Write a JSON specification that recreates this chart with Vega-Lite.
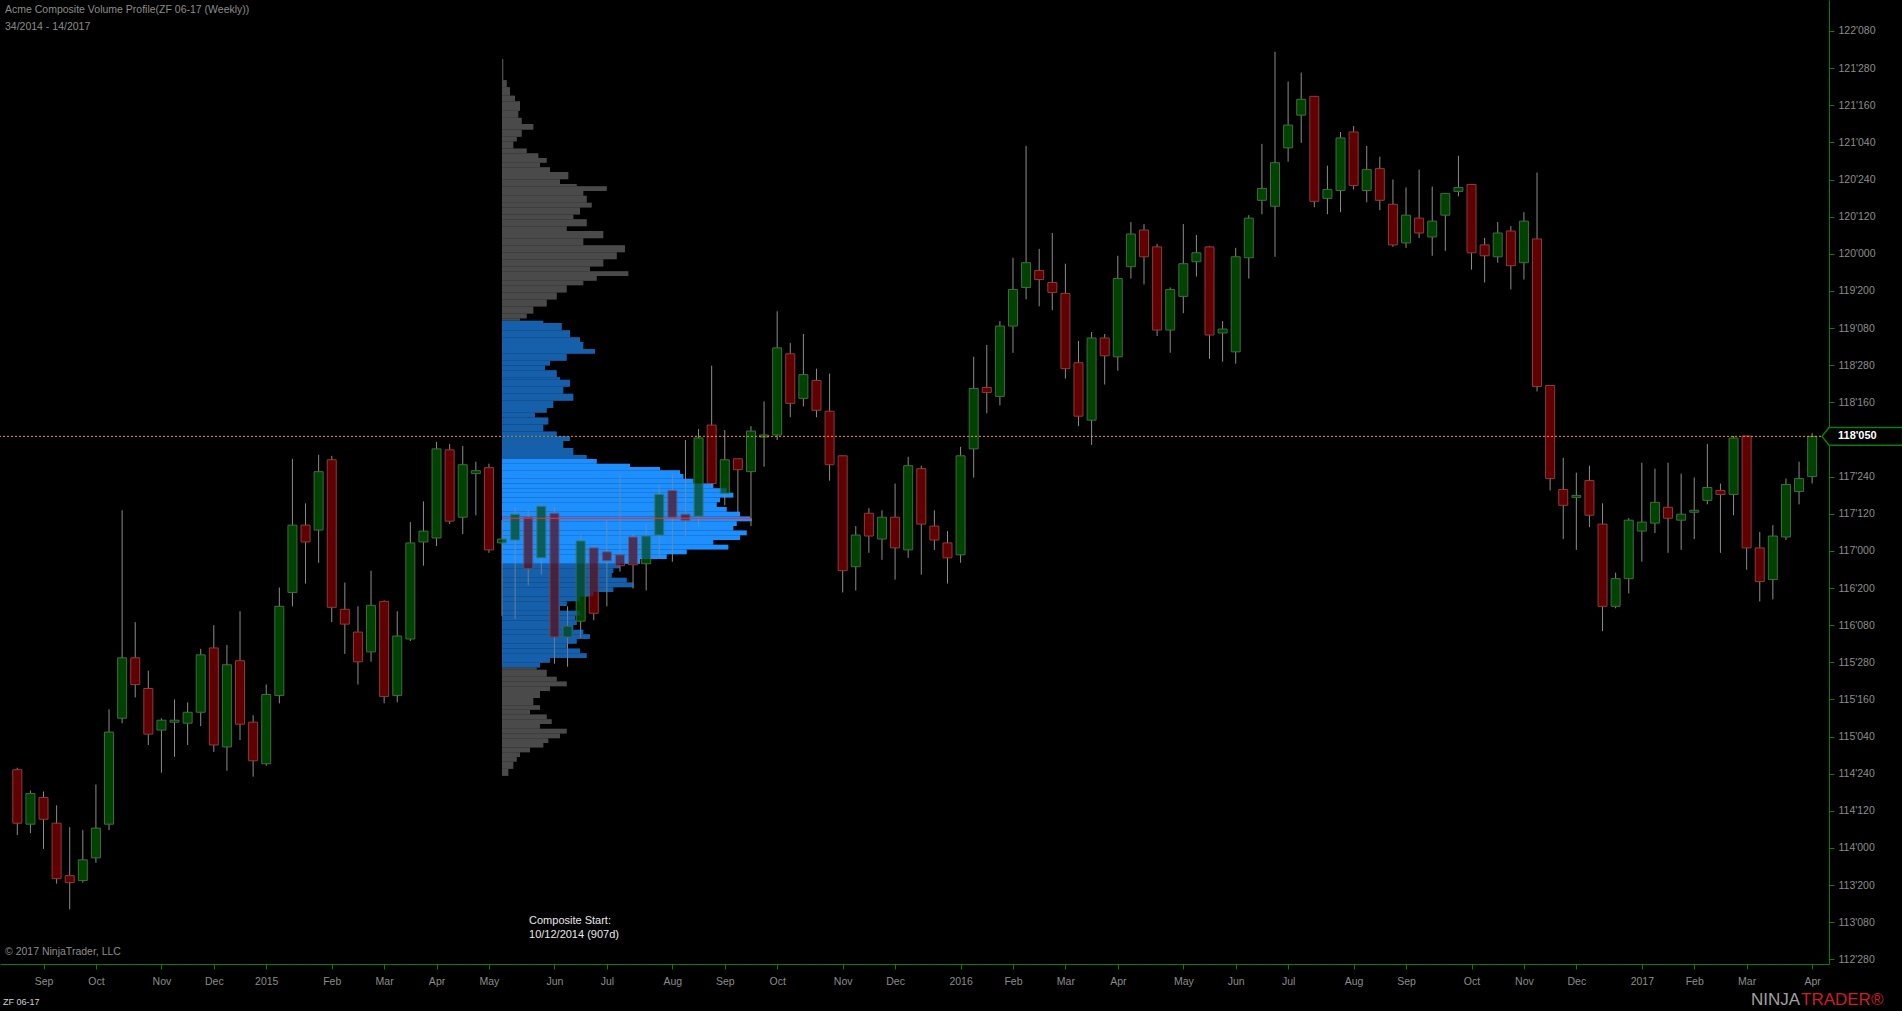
{
  "$schema": "https://vega.github.io/schema/vega-lite/v6.json",
  "width": 1829,
  "height": 964,
  "autosize": {"type": "none"},
  "padding": {"left": 0, "top": 0, "right": 73, "bottom": 47},
  "background": "#000000",
  "datasets": {
    "candles": [
      {"d":"2014-08-22","o":114.79,"h":114.81,"l":114.13,"c":114.25},
      {"d":"2014-08-29","o":114.24,"h":114.58,"l":114.15,"c":114.55},
      {"d":"2014-09-05","o":114.51,"h":114.57,"l":113.99,"c":114.29},
      {"d":"2014-09-12","o":114.25,"h":114.43,"l":113.64,"c":113.69},
      {"d":"2014-09-19","o":113.72,"h":114.21,"l":113.38,"c":113.65},
      {"d":"2014-09-26","o":113.67,"h":114.18,"l":113.65,"c":113.88},
      {"d":"2014-10-03","o":113.90,"h":114.64,"l":113.85,"c":114.20},
      {"d":"2014-10-10","o":114.24,"h":115.40,"l":114.18,"c":115.17},
      {"d":"2014-10-17","o":115.31,"h":117.41,"l":115.26,"c":115.92},
      {"d":"2014-10-24","o":115.92,"h":116.28,"l":115.52,"c":115.65},
      {"d":"2014-10-31","o":115.61,"h":115.79,"l":115.04,"c":115.15},
      {"d":"2014-11-07","o":115.19,"h":115.31,"l":114.76,"c":115.29},
      {"d":"2014-11-14","o":115.27,"h":115.50,"l":114.92,"c":115.29},
      {"d":"2014-11-21","o":115.26,"h":115.47,"l":115.04,"c":115.37},
      {"d":"2014-11-28","o":115.37,"h":116.01,"l":115.23,"c":115.95},
      {"d":"2014-12-05","o":116.02,"h":116.25,"l":114.97,"c":115.04},
      {"d":"2014-12-12","o":115.02,"h":116.05,"l":114.78,"c":115.85},
      {"d":"2014-12-19","o":115.89,"h":116.39,"l":115.09,"c":115.25},
      {"d":"2014-12-26","o":115.27,"h":115.34,"l":114.72,"c":114.88},
      {"d":"2015-01-02","o":114.85,"h":115.65,"l":114.83,"c":115.55},
      {"d":"2015-01-09","o":115.54,"h":116.63,"l":115.46,"c":116.44},
      {"d":"2015-01-16","o":116.58,"h":117.93,"l":116.44,"c":117.26},
      {"d":"2015-01-23","o":117.26,"h":117.48,"l":116.67,"c":117.09},
      {"d":"2015-01-30","o":117.21,"h":117.97,"l":116.88,"c":117.80},
      {"d":"2015-02-06","o":117.92,"h":117.96,"l":116.28,"c":116.43},
      {"d":"2015-02-13","o":116.41,"h":116.68,"l":115.96,"c":116.26},
      {"d":"2015-02-20","o":116.18,"h":116.44,"l":115.65,"c":115.88},
      {"d":"2015-02-27","o":115.98,"h":116.80,"l":115.88,"c":116.45},
      {"d":"2015-03-06","o":116.49,"h":116.50,"l":115.46,"c":115.53},
      {"d":"2015-03-13","o":115.54,"h":116.39,"l":115.47,"c":116.14},
      {"d":"2015-03-20","o":116.11,"h":117.29,"l":116.09,"c":117.08},
      {"d":"2015-03-27","o":117.09,"h":117.50,"l":116.85,"c":117.20},
      {"d":"2015-04-03","o":117.13,"h":118.10,"l":117.05,"c":118.03},
      {"d":"2015-04-10","o":118.02,"h":118.08,"l":117.27,"c":117.30},
      {"d":"2015-04-17","o":117.34,"h":118.06,"l":117.17,"c":117.87},
      {"d":"2015-04-24","o":117.78,"h":117.90,"l":117.36,"c":117.81},
      {"d":"2015-05-01","o":117.84,"h":117.88,"l":116.98,"c":117.01},
      {"d":"2015-05-08","o":117.08,"h":117.31,"l":116.34,"c":117.12},
      {"d":"2015-05-15","o":117.11,"h":117.44,"l":116.31,"c":117.37},
      {"d":"2015-05-22","o":117.34,"h":117.41,"l":116.65,"c":116.82},
      {"d":"2015-05-29","o":116.93,"h":117.47,"l":116.76,"c":117.45},
      {"d":"2015-06-05","o":117.38,"h":117.44,"l":115.86,"c":116.13},
      {"d":"2015-06-12","o":116.13,"h":116.44,"l":115.83,"c":116.24},
      {"d":"2015-06-19","o":116.29,"h":117.16,"l":116.12,"c":117.10},
      {"d":"2015-06-26","o":117.03,"h":117.05,"l":116.30,"c":116.37},
      {"d":"2015-07-03","o":116.99,"h":117.31,"l":116.44,"c":116.90},
      {"d":"2015-07-10","o":116.96,"h":117.78,"l":116.79,"c":116.85},
      {"d":"2015-07-17","o":117.14,"h":117.17,"l":116.62,"c":116.86},
      {"d":"2015-07-24","o":116.87,"h":117.27,"l":116.60,"c":117.15},
      {"d":"2015-07-31","o":117.16,"h":117.67,"l":116.93,"c":117.57},
      {"d":"2015-08-07","o":117.61,"h":117.78,"l":116.89,"c":117.34},
      {"d":"2015-08-14","o":117.37,"h":118.12,"l":117.14,"c":117.31},
      {"d":"2015-08-21","o":117.35,"h":118.23,"l":117.25,"c":118.14},
      {"d":"2015-08-28","o":118.27,"h":118.87,"l":117.64,"c":117.68},
      {"d":"2015-09-04","o":117.58,"h":118.22,"l":117.46,"c":117.92},
      {"d":"2015-09-11","o":117.93,"h":117.93,"l":117.38,"c":117.82},
      {"d":"2015-09-18","o":117.80,"h":118.26,"l":117.25,"c":118.21},
      {"d":"2015-09-25","o":118.15,"h":118.51,"l":117.85,"c":118.17},
      {"d":"2015-10-02","o":118.17,"h":119.42,"l":118.12,"c":119.05},
      {"d":"2015-10-09","o":118.99,"h":119.10,"l":118.35,"c":118.49},
      {"d":"2015-10-16","o":118.54,"h":119.19,"l":118.46,"c":118.78},
      {"d":"2015-10-23","o":118.72,"h":118.84,"l":118.35,"c":118.42},
      {"d":"2015-10-30","o":118.41,"h":118.79,"l":117.71,"c":117.87},
      {"d":"2015-11-06","o":117.96,"h":117.96,"l":116.58,"c":116.80},
      {"d":"2015-11-13","o":116.84,"h":117.25,"l":116.60,"c":117.16},
      {"d":"2015-11-20","o":117.38,"h":117.43,"l":116.98,"c":117.15},
      {"d":"2015-11-27","o":117.12,"h":117.41,"l":116.91,"c":117.34},
      {"d":"2015-12-04","o":117.34,"h":117.68,"l":116.71,"c":117.03},
      {"d":"2015-12-11","o":117.01,"h":117.95,"l":116.93,"c":117.86},
      {"d":"2015-12-18","o":117.83,"h":117.86,"l":116.76,"c":117.27},
      {"d":"2015-12-25","o":117.25,"h":117.41,"l":117.01,"c":117.11},
      {"d":"2016-01-01","o":117.08,"h":117.20,"l":116.67,"c":116.93},
      {"d":"2016-01-08","o":116.96,"h":118.05,"l":116.88,"c":117.96},
      {"d":"2016-01-15","o":118.03,"h":118.96,"l":117.74,"c":118.64},
      {"d":"2016-01-22","o":118.65,"h":119.08,"l":118.39,"c":118.60},
      {"d":"2016-01-29","o":118.56,"h":119.32,"l":118.47,"c":119.27},
      {"d":"2016-02-05","o":119.27,"h":119.96,"l":119.00,"c":119.64},
      {"d":"2016-02-12","o":119.66,"h":121.09,"l":119.54,"c":119.91},
      {"d":"2016-02-19","o":119.83,"h":120.05,"l":119.47,"c":119.74},
      {"d":"2016-02-26","o":119.71,"h":120.21,"l":119.43,"c":119.61},
      {"d":"2016-03-04","o":119.60,"h":119.90,"l":118.74,"c":118.84},
      {"d":"2016-03-11","o":118.90,"h":119.12,"l":118.26,"c":118.36},
      {"d":"2016-03-18","o":118.32,"h":119.21,"l":118.07,"c":119.15},
      {"d":"2016-03-25","o":119.15,"h":119.19,"l":118.68,"c":118.97},
      {"d":"2016-04-01","o":118.96,"h":119.98,"l":118.82,"c":119.75},
      {"d":"2016-04-08","o":119.87,"h":120.32,"l":119.75,"c":120.20},
      {"d":"2016-04-15","o":120.24,"h":120.30,"l":119.69,"c":119.97},
      {"d":"2016-04-22","o":120.07,"h":120.10,"l":119.17,"c":119.23},
      {"d":"2016-04-29","o":119.23,"h":119.66,"l":119.00,"c":119.64},
      {"d":"2016-05-06","o":119.57,"h":120.30,"l":119.40,"c":119.90},
      {"d":"2016-05-13","o":119.92,"h":120.19,"l":119.77,"c":120.01},
      {"d":"2016-05-20","o":120.07,"h":120.08,"l":118.94,"c":119.18},
      {"d":"2016-05-27","o":119.20,"h":119.32,"l":118.91,"c":119.24},
      {"d":"2016-06-03","o":119.01,"h":120.06,"l":118.89,"c":119.97},
      {"d":"2016-06-10","o":119.96,"h":120.39,"l":119.75,"c":120.36},
      {"d":"2016-06-17","o":120.54,"h":121.11,"l":120.40,"c":120.66},
      {"d":"2016-06-24","o":120.48,"h":122.04,"l":119.97,"c":120.92},
      {"d":"2016-07-01","o":121.07,"h":121.74,"l":120.93,"c":121.30},
      {"d":"2016-07-08","o":121.40,"h":121.83,"l":121.12,"c":121.56},
      {"d":"2016-07-15","o":121.59,"h":121.59,"l":120.47,"c":120.53},
      {"d":"2016-07-22","o":120.56,"h":120.89,"l":120.40,"c":120.65},
      {"d":"2016-07-29","o":120.64,"h":121.23,"l":120.42,"c":121.17},
      {"d":"2016-08-05","o":121.23,"h":121.29,"l":120.65,"c":120.69},
      {"d":"2016-08-12","o":120.64,"h":121.09,"l":120.52,"c":120.85},
      {"d":"2016-08-19","o":120.86,"h":120.98,"l":120.44,"c":120.54},
      {"d":"2016-08-26","o":120.50,"h":120.75,"l":120.07,"c":120.09},
      {"d":"2016-09-02","o":120.11,"h":120.67,"l":120.06,"c":120.39},
      {"d":"2016-09-09","o":120.36,"h":120.85,"l":120.16,"c":120.21},
      {"d":"2016-09-16","o":120.17,"h":120.68,"l":119.98,"c":120.33},
      {"d":"2016-09-23","o":120.39,"h":120.61,"l":120.03,"c":120.61},
      {"d":"2016-09-30","o":120.63,"h":120.99,"l":120.58,"c":120.67},
      {"d":"2016-10-07","o":120.70,"h":120.70,"l":119.84,"c":120.01},
      {"d":"2016-10-14","o":120.09,"h":120.16,"l":119.71,"c":119.98},
      {"d":"2016-10-21","o":119.97,"h":120.32,"l":119.91,"c":120.21},
      {"d":"2016-10-28","o":120.23,"h":120.28,"l":119.64,"c":119.88},
      {"d":"2016-11-04","o":119.91,"h":120.42,"l":119.74,"c":120.33},
      {"d":"2016-11-11","o":120.15,"h":120.82,"l":118.61,"c":118.66},
      {"d":"2016-11-18","o":118.67,"h":118.67,"l":117.61,"c":117.73},
      {"d":"2016-11-25","o":117.62,"h":117.94,"l":117.12,"c":117.46},
      {"d":"2016-12-02","o":117.54,"h":117.79,"l":117.01,"c":117.56},
      {"d":"2016-12-09","o":117.71,"h":117.86,"l":117.24,"c":117.36},
      {"d":"2016-12-16","o":117.27,"h":117.48,"l":116.19,"c":116.44},
      {"d":"2016-12-23","o":116.44,"h":116.78,"l":116.42,"c":116.72},
      {"d":"2016-12-30","o":116.72,"h":117.33,"l":116.57,"c":117.31},
      {"d":"2017-01-06","o":117.20,"h":117.89,"l":116.89,"c":117.29},
      {"d":"2017-01-13","o":117.28,"h":117.83,"l":117.18,"c":117.49},
      {"d":"2017-01-20","o":117.44,"h":117.89,"l":116.98,"c":117.33},
      {"d":"2017-01-27","o":117.31,"h":117.78,"l":117.01,"c":117.37},
      {"d":"2017-02-03","o":117.39,"h":117.74,"l":117.12,"c":117.41},
      {"d":"2017-02-10","o":117.51,"h":118.08,"l":117.47,"c":117.64},
      {"d":"2017-02-17","o":117.61,"h":117.68,"l":116.98,"c":117.57},
      {"d":"2017-02-24","o":117.57,"h":118.16,"l":117.36,"c":118.14},
      {"d":"2017-03-03","o":118.16,"h":118.16,"l":116.81,"c":117.03},
      {"d":"2017-03-10","o":117.03,"h":117.19,"l":116.49,"c":116.69},
      {"d":"2017-03-17","o":116.71,"h":117.26,"l":116.51,"c":117.15},
      {"d":"2017-03-24","o":117.14,"h":117.73,"l":117.11,"c":117.67},
      {"d":"2017-03-31","o":117.60,"h":117.90,"l":117.47,"c":117.73},
      {"d":"2017-04-07","o":117.75,"h":118.19,"l":117.68,"c":118.15625}
    ],
    "profile": [
      {"p":121.968,"p2":121.835,"vol":1.3,"zone":"outside"},
      {"p":121.835,"p2":121.754,"vol":1.3,"zone":"outside"},
      {"p":121.754,"p2":121.683,"vol":4.7,"zone":"outside"},
      {"p":121.683,"p2":121.597,"vol":8,"zone":"outside"},
      {"p":121.597,"p2":121.540,"vol":13,"zone":"outside"},
      {"p":121.540,"p2":121.444,"vol":18,"zone":"outside"},
      {"p":121.444,"p2":121.373,"vol":16.3,"zone":"outside"},
      {"p":121.373,"p2":121.311,"vol":19.7,"zone":"outside"},
      {"p":121.311,"p2":121.254,"vol":31.3,"zone":"outside"},
      {"p":121.254,"p2":121.182,"vol":19.7,"zone":"outside"},
      {"p":121.182,"p2":121.135,"vol":14.7,"zone":"outside"},
      {"p":121.135,"p2":121.063,"vol":11.3,"zone":"outside"},
      {"p":121.063,"p2":121.016,"vol":24.7,"zone":"outside"},
      {"p":121.016,"p2":120.968,"vol":36.3,"zone":"outside"},
      {"p":120.968,"p2":120.920,"vol":44.7,"zone":"outside"},
      {"p":120.920,"p2":120.873,"vol":38,"zone":"outside"},
      {"p":120.873,"p2":120.825,"vol":48,"zone":"outside"},
      {"p":120.825,"p2":120.754,"vol":66.3,"zone":"outside"},
      {"p":120.754,"p2":120.706,"vol":58,"zone":"outside"},
      {"p":120.706,"p2":120.682,"vol":74.7,"zone":"outside"},
      {"p":120.682,"p2":120.635,"vol":104.7,"zone":"outside"},
      {"p":120.635,"p2":120.587,"vol":81.3,"zone":"outside"},
      {"p":120.587,"p2":120.516,"vol":84.7,"zone":"outside"},
      {"p":120.516,"p2":120.468,"vol":89.7,"zone":"outside"},
      {"p":120.468,"p2":120.396,"vol":78,"zone":"outside"},
      {"p":120.396,"p2":120.349,"vol":71.3,"zone":"outside"},
      {"p":120.349,"p2":120.277,"vol":84.7,"zone":"outside"},
      {"p":120.277,"p2":120.230,"vol":64.7,"zone":"outside"},
      {"p":120.230,"p2":120.158,"vol":101.3,"zone":"outside"},
      {"p":120.158,"p2":120.087,"vol":81.3,"zone":"outside"},
      {"p":120.087,"p2":120.015,"vol":123,"zone":"outside"},
      {"p":120.015,"p2":119.944,"vol":114.7,"zone":"outside"},
      {"p":119.944,"p2":119.872,"vol":101.3,"zone":"outside"},
      {"p":119.872,"p2":119.825,"vol":88,"zone":"outside"},
      {"p":119.825,"p2":119.777,"vol":126.3,"zone":"outside"},
      {"p":119.777,"p2":119.729,"vol":94.7,"zone":"outside"},
      {"p":119.729,"p2":119.682,"vol":81.3,"zone":"outside"},
      {"p":119.682,"p2":119.610,"vol":64.7,"zone":"outside"},
      {"p":119.610,"p2":119.539,"vol":54.7,"zone":"outside"},
      {"p":119.539,"p2":119.468,"vol":44.7,"zone":"outside"},
      {"p":119.468,"p2":119.396,"vol":31.3,"zone":"outside"},
      {"p":119.396,"p2":119.348,"vol":24.7,"zone":"outside"},
      {"p":119.348,"p2":119.325,"vol":18,"zone":"outside"},
      {"p":119.325,"p2":119.301,"vol":41.3,"zone":"value"},
      {"p":119.301,"p2":119.229,"vol":59.7,"zone":"value"},
      {"p":119.229,"p2":119.158,"vol":68,"zone":"value"},
      {"p":119.158,"p2":119.110,"vol":78,"zone":"value"},
      {"p":119.110,"p2":119.039,"vol":81.3,"zone":"value"},
      {"p":119.039,"p2":118.991,"vol":93,"zone":"value"},
      {"p":118.991,"p2":118.920,"vol":64.7,"zone":"value"},
      {"p":118.920,"p2":118.872,"vol":48,"zone":"value"},
      {"p":118.872,"p2":118.824,"vol":43,"zone":"value"},
      {"p":118.824,"p2":118.753,"vol":54.7,"zone":"value"},
      {"p":118.753,"p2":118.729,"vol":58,"zone":"value"},
      {"p":118.729,"p2":118.658,"vol":68,"zone":"value"},
      {"p":118.658,"p2":118.586,"vol":61.3,"zone":"value"},
      {"p":118.586,"p2":118.515,"vol":71.3,"zone":"value"},
      {"p":118.515,"p2":118.443,"vol":51.3,"zone":"value"},
      {"p":118.443,"p2":118.396,"vol":44.7,"zone":"value"},
      {"p":118.396,"p2":118.348,"vol":33,"zone":"value"},
      {"p":118.348,"p2":118.277,"vol":46.3,"zone":"value"},
      {"p":118.277,"p2":118.205,"vol":41.3,"zone":"value"},
      {"p":118.205,"p2":118.157,"vol":54.7,"zone":"value"},
      {"p":118.157,"p2":118.110,"vol":68,"zone":"value"},
      {"p":118.110,"p2":118.038,"vol":61.3,"zone":"value"},
      {"p":118.038,"p2":117.967,"vol":71.3,"zone":"value"},
      {"p":117.967,"p2":117.929,"vol":84.7,"zone":"value"},
      {"p":117.929,"p2":117.881,"vol":94.7,"zone":"core"},
      {"p":117.881,"p2":117.848,"vol":128,"zone":"core"},
      {"p":117.848,"p2":117.814,"vol":158,"zone":"core"},
      {"p":117.814,"p2":117.776,"vol":178,"zone":"core"},
      {"p":117.776,"p2":117.729,"vol":181.3,"zone":"core"},
      {"p":117.729,"p2":117.681,"vol":191.3,"zone":"core"},
      {"p":117.681,"p2":117.633,"vol":211.3,"zone":"core"},
      {"p":117.633,"p2":117.586,"vol":224.7,"zone":"core"},
      {"p":117.586,"p2":117.538,"vol":231.3,"zone":"core"},
      {"p":117.538,"p2":117.491,"vol":218,"zone":"core"},
      {"p":117.491,"p2":117.443,"vol":214.7,"zone":"core"},
      {"p":117.443,"p2":117.395,"vol":224.7,"zone":"core"},
      {"p":117.395,"p2":117.348,"vol":238,"zone":"core"},
      {"p":117.348,"p2":117.329,"vol":248,"zone":"core"},
      {"p":117.329,"p2":117.300,"vol":249.7,"zone":"core"},
      {"p":117.300,"p2":117.252,"vol":234.7,"zone":"core"},
      {"p":117.252,"p2":117.205,"vol":231.3,"zone":"core"},
      {"p":117.205,"p2":117.157,"vol":244.7,"zone":"core"},
      {"p":117.157,"p2":117.109,"vol":238,"zone":"core"},
      {"p":117.109,"p2":117.062,"vol":211.3,"zone":"core"},
      {"p":117.062,"p2":117.014,"vol":226.3,"zone":"core"},
      {"p":117.014,"p2":116.967,"vol":184.7,"zone":"core"},
      {"p":116.967,"p2":116.919,"vol":164.7,"zone":"core"},
      {"p":116.919,"p2":116.871,"vol":138,"zone":"core"},
      {"p":116.871,"p2":116.824,"vol":118,"zone":"value"},
      {"p":116.824,"p2":116.776,"vol":111.3,"zone":"value"},
      {"p":116.776,"p2":116.728,"vol":109.7,"zone":"value"},
      {"p":116.728,"p2":116.681,"vol":124.7,"zone":"value"},
      {"p":116.681,"p2":116.633,"vol":131.3,"zone":"value"},
      {"p":116.633,"p2":116.585,"vol":111.3,"zone":"value"},
      {"p":116.585,"p2":116.538,"vol":91.3,"zone":"value"},
      {"p":116.538,"p2":116.490,"vol":78,"zone":"value"},
      {"p":116.490,"p2":116.443,"vol":64.7,"zone":"value"},
      {"p":116.443,"p2":116.395,"vol":58,"zone":"value"},
      {"p":116.395,"p2":116.347,"vol":78,"zone":"value"},
      {"p":116.347,"p2":116.300,"vol":73,"zone":"value"},
      {"p":116.300,"p2":116.252,"vol":74.7,"zone":"value"},
      {"p":116.252,"p2":116.204,"vol":71.3,"zone":"value"},
      {"p":116.204,"p2":116.157,"vol":81.3,"zone":"value"},
      {"p":116.157,"p2":116.109,"vol":88,"zone":"value"},
      {"p":116.109,"p2":116.062,"vol":74.7,"zone":"value"},
      {"p":116.062,"p2":116.014,"vol":64.7,"zone":"value"},
      {"p":116.014,"p2":115.966,"vol":78,"zone":"value"},
      {"p":115.966,"p2":115.919,"vol":84.7,"zone":"value"},
      {"p":115.919,"p2":115.871,"vol":48,"zone":"value"},
      {"p":115.871,"p2":115.823,"vol":38,"zone":"value"},
      {"p":115.823,"p2":115.799,"vol":34.7,"zone":"outside"},
      {"p":115.799,"p2":115.728,"vol":44.7,"zone":"outside"},
      {"p":115.728,"p2":115.680,"vol":54.7,"zone":"outside"},
      {"p":115.680,"p2":115.633,"vol":64.7,"zone":"outside"},
      {"p":115.633,"p2":115.585,"vol":48,"zone":"outside"},
      {"p":115.585,"p2":115.514,"vol":38,"zone":"outside"},
      {"p":115.514,"p2":115.442,"vol":31.3,"zone":"outside"},
      {"p":115.442,"p2":115.395,"vol":38,"zone":"outside"},
      {"p":115.395,"p2":115.347,"vol":28,"zone":"outside"},
      {"p":115.347,"p2":115.299,"vol":44.7,"zone":"outside"},
      {"p":115.299,"p2":115.252,"vol":49.7,"zone":"outside"},
      {"p":115.252,"p2":115.204,"vol":38,"zone":"outside"},
      {"p":115.204,"p2":115.156,"vol":64.7,"zone":"outside"},
      {"p":115.156,"p2":115.109,"vol":58,"zone":"outside"},
      {"p":115.109,"p2":115.061,"vol":46.3,"zone":"outside"},
      {"p":115.061,"p2":115.014,"vol":41.3,"zone":"outside"},
      {"p":115.014,"p2":114.966,"vol":28,"zone":"outside"},
      {"p":114.966,"p2":114.918,"vol":18,"zone":"outside"},
      {"p":114.918,"p2":114.871,"vol":14.7,"zone":"outside"},
      {"p":114.871,"p2":114.799,"vol":11.3,"zone":"outside"},
      {"p":114.799,"p2":114.728,"vol":6.3,"zone":"outside"}
    ],
    "poc": [
      {"p":117.334,"p2":117.324,"vol":249.7}
    ]
  },
  "resolve": {"scale": {"x": "independent"}, "axis": {"x": "independent", "y": "independent"}},
  "layer": [
    {
      "data": {"name": "profile"},
      "mark": {"type": "bar", "orient": "horizontal"},
      "encoding": {
        "y": {"field": "p", "type": "quantitative", "scale": {"domain": [112.828, 122.563], "nice": false, "zero": false, "padding": 0}, "axis": null},
        "y2": {"field": "p2"},
        "x": {"field": "vol", "type": "quantitative", "scale": {"domain": [-502, 1327], "nice": false, "zero": false, "padding": 0}, "axis": null},
        "color": {"field": "zone", "type": "nominal", "scale": {"domain": ["outside", "value", "core"], "range": ["#4b4b4b", "#1660ab", "#1e90ff"]}, "legend": null}
      }
    },
    {
      "data": {"name": "candles"},
      "mark": {"type": "rule", "color": "#8c8c8c", "strokeWidth": 1},
      "encoding": {
        "x": {"field": "d", "type": "temporal", "scale": {"type": "utc", "nice": false, "padding": 0, "domain": [{"year": 2014, "month": 8, "date": 12, "hours": 18, "utc": true}, {"year": 2017, "month": 4, "date": 16, "utc": true}]}, "axis": null},
        "y": {"field": "l", "type": "quantitative", "axis": null},
        "y2": {"field": "h"}
      }
    },
    {
      "data": {"name": "candles"},
      "mark": {"type": "bar", "size": 9, "strokeWidth": 1},
      "encoding": {
        "x": {
          "field": "d", "type": "temporal",
          "scale": {"type": "utc", "nice": false, "padding": 0, "domain": [{"year": 2014, "month": 8, "date": 12, "hours": 18, "utc": true}, {"year": 2017, "month": 4, "date": 16, "utc": true}]},
          "axis": {
            "orient": "bottom", "title": null, "grid": false,
            "values": [
              {"year": 2014, "month": 9, "date": 5, "utc": true},
              {"year": 2014, "month": 10, "date": 3, "utc": true},
              {"year": 2014, "month": 11, "date": 7, "utc": true},
              {"year": 2014, "month": 12, "date": 5, "utc": true},
              {"year": 2015, "month": 1, "date": 2, "utc": true},
              {"year": 2015, "month": 2, "date": 6, "utc": true},
              {"year": 2015, "month": 3, "date": 6, "utc": true},
              {"year": 2015, "month": 4, "date": 3, "utc": true},
              {"year": 2015, "month": 5, "date": 1, "utc": true},
              {"year": 2015, "month": 6, "date": 5, "utc": true},
              {"year": 2015, "month": 7, "date": 3, "utc": true},
              {"year": 2015, "month": 8, "date": 7, "utc": true},
              {"year": 2015, "month": 9, "date": 4, "utc": true},
              {"year": 2015, "month": 10, "date": 2, "utc": true},
              {"year": 2015, "month": 11, "date": 6, "utc": true},
              {"year": 2015, "month": 12, "date": 4, "utc": true},
              {"year": 2016, "month": 1, "date": 8, "utc": true},
              {"year": 2016, "month": 2, "date": 5, "utc": true},
              {"year": 2016, "month": 3, "date": 4, "utc": true},
              {"year": 2016, "month": 4, "date": 1, "utc": true},
              {"year": 2016, "month": 5, "date": 6, "utc": true},
              {"year": 2016, "month": 6, "date": 3, "utc": true},
              {"year": 2016, "month": 7, "date": 1, "utc": true},
              {"year": 2016, "month": 8, "date": 5, "utc": true},
              {"year": 2016, "month": 9, "date": 2, "utc": true},
              {"year": 2016, "month": 10, "date": 7, "utc": true},
              {"year": 2016, "month": 11, "date": 4, "utc": true},
              {"year": 2016, "month": 12, "date": 2, "utc": true},
              {"year": 2017, "month": 1, "date": 6, "utc": true},
              {"year": 2017, "month": 2, "date": 3, "utc": true},
              {"year": 2017, "month": 3, "date": 3, "utc": true},
              {"year": 2017, "month": 4, "date": 7, "utc": true}
            ],
            "labelExpr": "utcFormat(datum.value, '%m') == '01' ? utcFormat(datum.value, '%Y') : utcFormat(datum.value, '%b')",
            "labelPadding": 7, "labelFlush": false, "labelOverlap": false,
            "domainColor": "#0b7d0b", "tickColor": "#0b7d0b", "tickSize": 5,
            "labelColor": "#8c8c8c", "labelFont": "Liberation Sans", "labelFontSize": 10.5
          }
        },
        "y": {
          "field": "o", "type": "quantitative",
          "scale": {"domain": [112.828, 122.563], "nice": false, "zero": false, "padding": 0},
          "axis": {
            "orient": "right", "title": null, "grid": false,
            "values": [112.875, 113.25, 113.625, 114, 114.375, 114.75, 115.125, 115.5, 115.875, 116.25, 116.625, 117, 117.375, 117.75, 118.125, 118.5, 118.875, 119.25, 119.625, 120, 120.375, 120.75, 121.125, 121.5, 121.875, 122.25],
            "labelExpr": "format(floor(datum.value), 'd') + \"'\" + format(round((datum.value - floor(datum.value)) * 320), '03d')",
            "labelPadding": 4, "labelFlush": false, "labelOverlap": false,
            "domainColor": "#0b7d0b", "tickColor": "#0b7d0b", "tickSize": 5,
            "labelColor": "#8c8c8c", "labelFont": "Liberation Sans", "labelFontSize": 10.5
          }
        },
        "y2": {"field": "c"},
        "fill": {"condition": {"test": "datum.c >= datum.o", "value": "#004300"}, "value": "#600000"},
        "stroke": {"condition": {"test": "datum.c >= datum.o", "value": "#3f6b3f"}, "value": "#8a3c3c"}
      }
    },
    {
      "data": {"values": [{"price": 118.15625}]},
      "mark": {"type": "rule", "color": "#f0a000", "strokeDash": [2, 2], "strokeWidth": 1},
      "encoding": {"y": {"field": "price", "type": "quantitative", "axis": null}}
    },
    {
      "data": {"values": [{"price": 118.15625}]},
      "mark": {"type": "point", "shape": "M -0.0875 0 L 0 -0.11 L 0.92 -0.11 L 0.92 0.11 L 0 0.11 Z", "size": 25600, "filled": true, "fill": "#000000", "stroke": "#0b7d0b", "strokeWidth": 1.5, "opacity": 1},
      "encoding": {
        "x": {"datum": {"year": 2017, "month": 4, "date": 16, "utc": true}, "type": "temporal", "scale": {"type": "utc", "nice": false, "padding": 0, "domain": [{"year": 2014, "month": 8, "date": 12, "hours": 18, "utc": true}, {"year": 2017, "month": 4, "date": 16, "utc": true}]}, "axis": null},
        "y": {"field": "price", "type": "quantitative", "axis": null}
      }
    },
    {
      "data": {"values": [{"price": 118.15625, "label": "118'050"}]},
      "mark": {"type": "text", "align": "left", "baseline": "middle", "dx": 9, "font": "Liberation Sans", "fontSize": 11, "fontWeight": "bold", "color": "#ffffff"},
      "encoding": {
        "x": {"datum": {"year": 2017, "month": 4, "date": 16, "utc": true}, "type": "temporal", "scale": {"type": "utc", "nice": false, "padding": 0, "domain": [{"year": 2014, "month": 8, "date": 12, "hours": 18, "utc": true}, {"year": 2017, "month": 4, "date": 16, "utc": true}]}, "axis": null},
        "y": {"field": "price", "type": "quantitative", "axis": null},
        "text": {"field": "label"}
      }
    },
    {
      "data": {"values": [{}]},
      "mark": {"type": "text", "align": "left", "baseline": "top", "dx": 5, "dy": 5, "font": "Liberation Sans", "fontSize": 10.5, "lineHeight": 17, "color": "#8c8c8c", "text": ["Acme Composite Volume Profile(ZF 06-17 (Weekly))", "34/2014 - 14/2017"]},
      "encoding": {
        "x": {"datum": {"year": 2014, "month": 8, "date": 12, "hours": 18, "utc": true}, "type": "temporal", "scale": {"type": "utc", "nice": false, "padding": 0, "domain": [{"year": 2014, "month": 8, "date": 12, "hours": 18, "utc": true}, {"year": 2017, "month": 4, "date": 16, "utc": true}]}, "axis": null},
        "y": {"datum": 122.563, "type": "quantitative", "axis": null}
      }
    },
    {
      "data": {"values": [{}]},
      "mark": {"type": "text", "align": "left", "baseline": "top", "dx": 27, "font": "Liberation Sans", "fontSize": 11, "lineHeight": 13.5, "color": "#e8e8e8", "text": ["Composite Start:", "10/12/2014 (907d)"]},
      "encoding": {
        "x": {"datum": {"year": 2015, "month": 5, "date": 8, "utc": true}, "type": "temporal", "scale": {"type": "utc", "nice": false, "padding": 0, "domain": [{"year": 2014, "month": 8, "date": 12, "hours": 18, "utc": true}, {"year": 2017, "month": 4, "date": 16, "utc": true}]}, "axis": null},
        "y": {"datum": 113.32, "type": "quantitative", "axis": null}
      }
    },
    {
      "data": {"values": [{}]},
      "mark": {"type": "text", "align": "left", "baseline": "middle", "dx": 5, "font": "Liberation Sans", "fontSize": 10.5, "color": "#8c8c8c", "text": "© 2017 NinjaTrader, LLC"},
      "encoding": {
        "x": {"datum": {"year": 2014, "month": 8, "date": 12, "hours": 18, "utc": true}, "type": "temporal", "scale": {"type": "utc", "nice": false, "padding": 0, "domain": [{"year": 2014, "month": 8, "date": 12, "hours": 18, "utc": true}, {"year": 2017, "month": 4, "date": 16, "utc": true}]}, "axis": null},
        "y": {"datum": 112.949, "type": "quantitative", "axis": null}
      }
    },
    {
      "data": {"values": [{}]},
      "mark": {"type": "text", "align": "left", "baseline": "middle", "dx": 3, "font": "Liberation Sans", "fontSize": 9, "color": "#d0d0d0", "text": "ZF 06-17"},
      "encoding": {
        "x": {"datum": {"year": 2014, "month": 8, "date": 12, "hours": 18, "utc": true}, "type": "temporal", "scale": {"type": "utc", "nice": false, "padding": 0, "domain": [{"year": 2014, "month": 8, "date": 12, "hours": 18, "utc": true}, {"year": 2017, "month": 4, "date": 16, "utc": true}]}, "axis": null},
        "y": {"datum": 112.444, "type": "quantitative", "axis": null}
      }
    },
    {
      "data": {"values": [{}]},
      "mark": {"type": "text", "align": "right", "baseline": "middle", "dx": -29, "font": "Liberation Sans", "fontSize": 17, "color": "#a0a0a0", "text": "NINJA"},
      "encoding": {
        "x": {"datum": {"year": 2017, "month": 4, "date": 16, "utc": true}, "type": "temporal", "scale": {"type": "utc", "nice": false, "padding": 0, "domain": [{"year": 2014, "month": 8, "date": 12, "hours": 18, "utc": true}, {"year": 2017, "month": 4, "date": 16, "utc": true}]}, "axis": null},
        "y": {"datum": 112.464, "type": "quantitative", "axis": null}
      }
    },
    {
      "data": {"values": [{}]},
      "mark": {"type": "text", "align": "left", "baseline": "middle", "dx": -28, "font": "Liberation Sans", "fontSize": 17, "color": "#cc2020", "text": "TRADER®"},
      "encoding": {
        "x": {"datum": {"year": 2017, "month": 4, "date": 16, "utc": true}, "type": "temporal", "scale": {"type": "utc", "nice": false, "padding": 0, "domain": [{"year": 2014, "month": 8, "date": 12, "hours": 18, "utc": true}, {"year": 2017, "month": 4, "date": 16, "utc": true}]}, "axis": null},
        "y": {"datum": 112.464, "type": "quantitative", "axis": null}
      }
    },
    {
      "data": {"name": "profile"},
      "mark": {"type": "bar", "orient": "horizontal", "opacity": 0.35},
      "encoding": {
        "y": {"field": "p", "type": "quantitative", "axis": null},
        "y2": {"field": "p2"},
        "x": {"field": "vol", "type": "quantitative", "scale": {"domain": [-502, 1327], "nice": false, "zero": false, "padding": 0}, "axis": null},
        "color": {"field": "zone", "type": "nominal", "scale": {"domain": ["outside", "value", "core"], "range": ["#4b4b4b", "#1660ab", "#1e90ff"]}, "legend": null}
      }
    },
    {
      "data": {"name": "poc"},
      "mark": {"type": "bar", "orient": "horizontal", "color": "#ff2a2a"},
      "encoding": {
        "y": {"field": "p", "type": "quantitative", "axis": null},
        "y2": {"field": "p2"},
        "x": {"field": "vol", "type": "quantitative", "scale": {"domain": [-502, 1327], "nice": false, "zero": false, "padding": 0}, "axis": null}
      }
    }
  ],
  "config": {
    "view": {"stroke": null},
    "font": "Liberation Sans"
  }
}
